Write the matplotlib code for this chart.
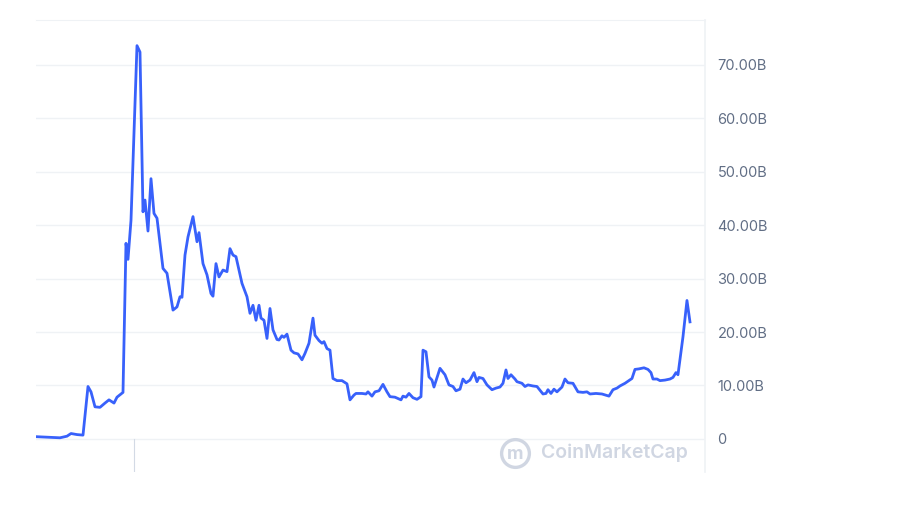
import matplotlib
matplotlib.use("Agg")
import matplotlib.pyplot as plt

# ========== Данные ==========
# t - условный индекс времени (слева направо), vol - объём торгов, млрд $
t = [1, 12, 24, 31, 35, 41, 47, 52, 55, 59,
     64, 69, 73, 78, 81, 87, 90, 92, 95, 101,
     104, 107, 109, 112, 115, 118, 121, 127, 131, 137,
     141, 144, 146, 149, 152, 157, 161, 163, 167, 171,
     175, 177, 180, 183, 187, 191, 194, 197, 200, 206,
     211, 214, 217, 220, 223, 225, 228, 231, 234, 237,
     241, 243, 246, 248, 251, 255, 258, 262, 266, 269,
     273, 277, 279, 283, 286, 288, 291, 294, 297, 301,
     306, 311, 314, 318, 320, 326, 330, 332, 336, 339,
     343, 347, 351, 354, 359, 365, 367, 370, 373, 377,
     381, 385, 387, 390, 393, 396, 398, 404, 409, 413,
     417, 420, 424, 427, 430, 434, 438, 441, 443, 447,
     451, 456, 460, 464, 467, 470, 472, 475, 479, 481,
     486, 489, 492, 497, 501, 507, 510, 512, 515, 518,
     521, 526, 529, 532, 537, 542, 547, 551, 554, 560,
     566, 571, 573, 577, 581, 584, 589, 593, 596, 599,
     603, 608, 612, 615, 617, 621, 624, 629, 634, 637,
     640, 642, 647, 651, 654]
vol = [0.4, 0.3, 0.2, 0.5, 1.0, 0.8, 0.7, 9.8, 8.8, 6.0,
       5.9, 6.7, 7.3, 6.7, 7.8, 8.7, 36.6, 33.6, 40.9, 73.6,
       72.4, 42.5, 44.7, 38.9, 48.7, 42.2, 41.3, 31.9, 31.0, 24.1,
       24.7, 26.6, 26.5, 34.4, 37.8, 41.6, 36.9, 38.6, 32.8, 30.7,
       27.2, 26.7, 32.8, 30.3, 31.6, 31.3, 35.6, 34.4, 34.1, 29.1,
       26.6, 23.5, 25.0, 22.2, 25.0, 22.6, 22.2, 18.8, 24.4, 20.4,
       18.6, 18.5, 19.3, 19.0, 19.6, 16.6, 16.1, 15.9, 14.8, 16.0,
       17.9, 22.6, 19.4, 18.4, 17.9, 18.2, 16.9, 16.6, 11.3, 10.9,
       10.9, 10.3, 7.3, 8.2, 8.5, 8.5, 8.4, 8.8, 8.0, 8.8,
       9.0, 10.2, 8.8, 7.9, 7.8, 7.3, 8.0, 7.8, 8.5, 7.7,
       7.4, 7.9, 16.6, 16.3, 11.6, 11.0, 9.7, 13.2, 12.0, 10.1,
       9.8, 9.0, 9.3, 11.2, 10.5, 11.0, 12.4, 10.7, 11.5, 11.3,
       10.1, 9.2, 9.5, 9.7, 10.4, 12.9, 11.3, 12.0, 11.2, 10.7,
       10.4, 9.8, 10.1, 9.9, 9.8, 8.4, 8.5, 9.2, 8.5, 9.3,
       8.8, 9.7, 11.2, 10.5, 10.4, 8.8, 8.7, 8.8, 8.4, 8.5,
       8.4, 8.1, 8.0, 9.2, 9.5, 9.9, 10.4, 10.9, 11.3, 13.0,
       13.1, 13.3, 13.0, 12.4, 11.2, 11.2, 10.9, 11.0, 11.2, 11.5,
       12.4, 12.0, 19.1, 25.9, 21.9]

y_ticks = [0, 10, 20, 30, 40, 50, 60, 70]
y_labels = ["0", "10.00B", "20.00B", "30.00B", "40.00B", "50.00B", "60.00B", "70.00B"]

LINE_COLOR = "#3861fb"
GRID_COLOR = "#eff2f5"
TEXT_COLOR = "#616e85"
WATERMARK = "#d0d6e2"
# ================================================

plt.rcParams["font.family"] = ["Inter", "DejaVu Sans"]

fig = plt.figure(figsize=(9, 5.08), dpi=100)
ax = fig.add_axes([0.04, 0.0709, 0.7433, 0.8897])

ax.plot(t, vol, color=LINE_COLOR, lw=2.0, solid_joinstyle="round")

ax.set_xlim(0, 669)
ax.set_ylim(-6.2, 78.4)

ax.yaxis.tick_right()
ax.set_yticks(y_ticks)
ax.set_yticklabels(y_labels)
ax.tick_params(axis="y", length=0, pad=9, labelsize=10.5, labelcolor=TEXT_COLOR)
ax.set_xticks([])
ax.grid(axis="y", color=GRID_COLOR, lw=1)

for side in ["left", "bottom"]:
    ax.spines[side].set_visible(False)
ax.spines["top"].set_color(GRID_COLOR)
ax.spines["right"].set_color(GRID_COLOR)
ax.spines["right"].set_linewidth(1.2)

# маленькая вертикальная метка под нулём
ax.plot([98, 98], [-6.2, 0], color="#d3dae5", lw=0.8)

# водяной знак
ax.plot([479], [-2.6], marker="o", ms=20, mfc="none", mec=WATERMARK, mew=2.4,
        clip_on=False)
ax.text(479, -2.9, "m", color=WATERMARK, fontsize=13, fontweight="bold",
        ha="center", va="center")
ax.text(505, -2.6, "CoinMarketCap", color=WATERMARK, fontsize=14,
        fontweight="semibold", ha="left", va="center")

fig.savefig("out.png", dpi=100, facecolor="white")
